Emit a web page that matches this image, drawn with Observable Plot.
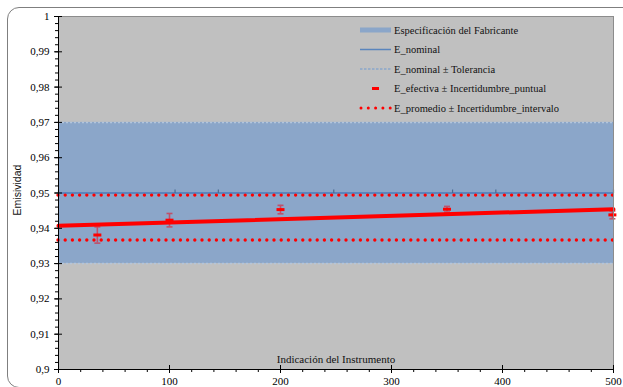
<!DOCTYPE html>
<html><head><meta charset="utf-8">
<script src="https://cdn.jsdelivr.net/npm/d3@7"></script>
<script src="https://cdn.jsdelivr.net/npm/@observablehq/plot@0.6"></script>
<style>
body{margin:0;background:#fff;}
#wrap{position:relative;width:623px;height:387px;overflow:hidden;background:#fff;}
#chart{position:absolute;left:0;top:0;}
#chart svg, #chart svg text{font-family:"Liberation Serif","Times New Roman",Times,"Liberation Sans",serif !important;}
#border{position:absolute;left:7px;top:7px;width:640px;height:381px;border:1px solid #7f7f7f;border-radius:12px;box-sizing:border-box;pointer-events:none;}
#overlay{position:absolute;left:0;top:0;pointer-events:none;}
.serif{font-family:"Liberation Serif","Times New Roman",Times,"Liberation Sans",serif;}
.sans{font-family:"Liberation Sans",Arial,Helvetica,sans-serif;}
</style></head>
<body><div id="wrap"><div id="chart"></div><div id="border"></div><svg id="overlay" width="623" height="387"></svg></div>
<script>
// ---- data ----
const xIndicacion = [35, 100, 200, 350, 499];
const eEfectiva = [0.9381, 0.9423, 0.9453, 0.9454, 0.9438];
const uPuntual = [0.0023, 0.0019, 0.0012, 0.0008, 0.0011];
const eNominal = 0.95;
const tolerancia = 0.02;
const specLow = 0.93;
const specHigh = 0.97;
const nominalMarkX = [0, 105, 144, 248, 355, 394, 500];
const trendX = [0, 500];
const trendY = [0.9407, 0.9454];
const ePromedio = 0.94305;
const uIntervalo = 0.00635;
const xTicks = [0, 100, 200, 300, 400, 500];
const yTicks = [0.9, 0.91, 0.92, 0.93, 0.94, 0.95, 0.96, 0.97, 0.98, 0.99, 1];
const xTitle = "Indicación del Instrumento";
const yTitle = "Emisividad";
const legendLabels = ["Especificación del Fabricante", "E_nominal", "E_nominal ± Tolerancia", "E_efectiva ± Incertidumbre_puntual", "E_promedio ± Incertidumbre_intervalo"];

// ---- derived tables ----
const pts = xIndicacion.map((x, i) => ({x, y: eEfectiva[i], lo: eEfectiva[i] - uPuntual[i], hi: eEfectiva[i] + uPuntual[i]}));
const trend = trendX.map((x, i) => ({x, y: trendY[i]}));
const xMinor = d3.range(0, 501, 20);
const yMinor = d3.range(0, 51).map(i => 0.9 + i * 0.002);
const fmt = d => String(+(+d).toFixed(2)).replace(".", ",");

const hline = {draw(ctx, size) { const r = Math.sqrt(size / Math.PI); ctx.moveTo(-r, 0); ctx.lineTo(r, 0); }};
const upTick = {draw(ctx, size) { const r = Math.sqrt(size / Math.PI); ctx.moveTo(0, 0); ctx.lineTo(0, -r); }};

const chart = Plot.plot({
  width: 623, height: 387,
  marginLeft: 58, marginRight: 10, marginTop: 16, marginBottom: 18,
  x: {domain: [0, 500]},
  y: {domain: [0.9, 1]},
  style: {fontSize: "11px", background: "transparent", color: "#000", overflow: "visible"},
  marks: [
    Plot.frame({fill: "#c0c0c0", stroke: null}),
    Plot.rect([{lo: specLow, hi: specHigh}], {y1: "lo", y2: "hi", fill: "#8ba6c9"}),
    Plot.ruleY([eNominal - tolerancia, eNominal + tolerancia], {stroke: "#b3c5dc", strokeWidth: 1.5, strokeDasharray: "2,2"}),
    Plot.ruleY([eNominal], {stroke: "#5a85bd", strokeWidth: 2}),
    Plot.dot(nominalMarkX, {x: d => d, y: () => eNominal, symbol: upTick, r: 3.5, stroke: "#4a6a90", strokeWidth: 1.2}),
    Plot.ruleY([ePromedio - uIntervalo, ePromedio + uIntervalo], {stroke: "#ff0000", strokeWidth: 3.4, strokeDasharray: "0,7.2", strokeLinecap: "round"}),
    Plot.ruleX(pts, {x: "x", y1: "lo", y2: "hi", stroke: "#c0506a", strokeWidth: 1.6}),
    Plot.dot(pts, {x: "x", y: "lo", symbol: hline, r: 3, stroke: "#c0506a", strokeWidth: 1.6}),
    Plot.dot(pts, {x: "x", y: "hi", symbol: hline, r: 3, stroke: "#c0506a", strokeWidth: 1.6}),
    Plot.line(trend, {x: "x", y: "y", stroke: "#ff0000", strokeWidth: 4}),
    Plot.dot(pts, {x: "x", y: "y", symbol: hline, r: 4, stroke: "#ff0000", strokeWidth: 3}),
    Plot.frame({stroke: "#8c8c8c"}),
    Plot.ruleX([0], {stroke: "#000"}),
    Plot.ruleY([0.9], {stroke: "#000"}),
    Plot.axisX({ticks: xTicks, tickSize: 0, tickPadding: 8, tickFormat: d => String(d), label: null}),
    Plot.axisX({ticks: xTicks, tickSize: 8, dy: -4, text: null, label: null, stroke: "#000"}),
    Plot.axisX({ticks: xMinor, tickSize: 3, text: null, label: null, stroke: "#000"}),
    Plot.axisY({ticks: yTicks, tickSize: 0, tickPadding: 9, tickFormat: fmt, label: null}),
    Plot.axisY({ticks: yTicks, tickSize: 8, dx: 4, text: null, label: null, stroke: "#000"}),
    Plot.axisY({ticks: yMinor, tickSize: 3, text: null, label: null, stroke: "#000"}),
    Plot.text([xTitle], {frameAnchor: "bottom", dy: -7, fill: "#111", fontSize: 11})
  ]
});
document.getElementById("chart").appendChild(chart);

// ---- overlay: y title and legend ----
const ov = d3.select("#overlay");
ov.append("text").attr("class", "sans").attr("transform", "translate(17,190) rotate(-90)")
  .attr("text-anchor", "middle").attr("dominant-baseline", "central")
  .style("font-size", "10.5px").attr("fill", "#111")
  .text(yTitle);

const lg = ov.append("g").attr("class", "serif").style("font-size", "10.5px");
const rowY = [30, 49.5, 69, 88.5, 108];
const symX0 = 360, symX1 = 391, textX = 394;
lg.append("line").attr("x1", symX0).attr("x2", symX1).attr("y1", rowY[0]).attr("y2", rowY[0]).attr("stroke", "#8ba6c9").attr("stroke-width", 5);
lg.append("line").attr("x1", symX0).attr("x2", symX1).attr("y1", rowY[1]).attr("y2", rowY[1]).attr("stroke", "#5a85bd").attr("stroke-width", 1.5);
lg.append("line").attr("x1", symX0).attr("x2", symX1).attr("y1", rowY[2]).attr("y2", rowY[2]).attr("stroke", "#6f9ad0").attr("stroke-width", 1).attr("stroke-dasharray", "2.5,1.5");
lg.append("line").attr("x1", 372).attr("x2", 379).attr("y1", rowY[3]).attr("y2", rowY[3]).attr("stroke", "#ff0000").attr("stroke-width", 3);
lg.append("line").attr("x1", 361).attr("x2", 391).attr("y1", rowY[4]).attr("y2", rowY[4]).attr("stroke", "#ff0000").attr("stroke-width", 3).attr("stroke-linecap", "round").attr("stroke-dasharray", "0,7.3");
legendLabels.forEach((t, i) => {
  lg.append("text").attr("x", textX).attr("y", rowY[i]).attr("dominant-baseline", "central").attr("fill", "#111").text(t);
});
</script></body></html>
